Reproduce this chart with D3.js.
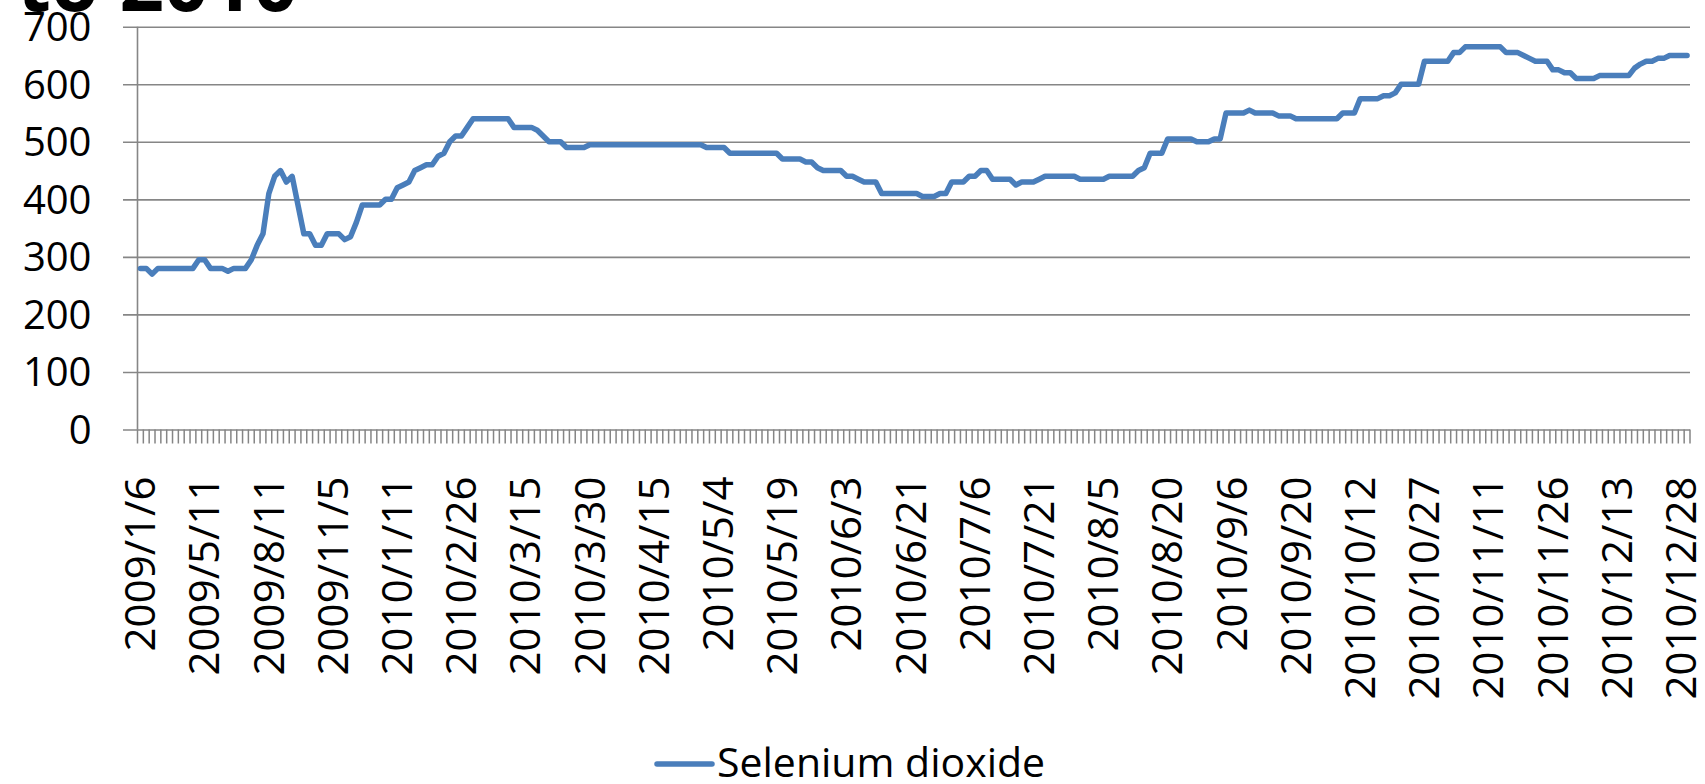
<!DOCTYPE html>
<html>
<head>
<meta charset="utf-8">
<script src="https://cdnjs.cloudflare.com/ajax/libs/d3/7.8.5/d3.min.js"></script>
<style>
  body { margin: 0; background: #fff; overflow: hidden; }
  text { font-family: "Open Sans", sans-serif; fill: #000; }
</style>
</head>
<body>
<div id="divchart"></div>
<script>
//Prices, one per category (trading day)
var prices = [
  280,280,270,280,280,280,280,280,280,280,
  295,295,280,280,280,275,280,280,280,295,
  320,340,410,440,450,430,440,390,340,340,
  320,320,340,340,340,330,335,360,390,390,
  390,390,400,400,420,425,430,450,455,460,
  460,475,480,500,510,510,525,540,540,540,
  540,540,540,540,525,525,525,525,520,510,
  500,500,500,490,490,490,490,495,495,495,
  495,495,495,495,495,495,495,495,495,495,
  495,495,495,495,495,495,495,490,490,490,
  490,480,480,480,480,480,480,480,480,480,
  470,470,470,470,465,465,455,450,450,450,
  450,440,440,435,430,430,430,410,410,410,
  410,410,410,410,405,405,405,410,410,430,
  430,430,440,440,450,450,435,435,435,435,
  425,430,430,430,435,440,440,440,440,440,
  440,435,435,435,435,435,440,440,440,440,
  440,450,455,480,480,480,505,505,505,505,
  505,500,500,500,505,505,550,550,550,550,
  555,550,550,550,550,545,545,545,540,540,
  540,540,540,540,540,540,550,550,550,575,
  575,575,575,580,580,585,600,600,600,600,
  640,640,640,640,640,655,655,665,665,665,
  665,665,665,665,655,655,655,650,645,640,
  640,640,625,625,620,620,610,610,610,610,
  615,615,615,615,615,615,628,635,640,640,
  645,645,650,650,650,650
]

//Only every 11th date is printed under the axis
var dateLabels = [
  "2009/1/6","2009/5/11","2009/8/11","2009/11/5","2010/1/11",
  "2010/2/26","2010/3/15","2010/3/30","2010/4/15","2010/5/4",
  "2010/5/19","2010/6/3","2010/6/21","2010/7/6","2010/7/21",
  "2010/8/5","2010/8/20","2010/9/6","2010/9/20","2010/10/12",
  "2010/10/27","2010/11/11","2010/11/26","2010/12/13","2010/12/28"
]
var labelStep = 11

var yTicks = [0,100,200,300,400,500,600,700]
var seriesName = "Selenium dioxide"
var titleTail = "to 2010"

//Sizes of the svg and of the plot area
var widthChart = 1705
var heightChart = 784
var margin = {top: 26.7, left: 137.5, right: 15, bottom: 354.5}
var plotW = widthChart - margin.left - margin.right
var plotH = heightChart - margin.top - margin.bottom

var gridColor = "#868686"
var lineColor = "#4a7ebb"

var svg = d3.select("#divchart")
  .append("svg")
  .attr("width", widthChart)
  .attr("height", heightChart)

//Title, mostly cut off above the picture
svg.append("text")
  .text(titleTail)
  .attr("x", 17)
  .attr("y", 11)
  .style("font-size", "78px")
  .style("font-weight", "bold")

var chart = svg.append("g")
  .attr("transform", "translate(" + margin.left + "," + margin.top + ")")

//Scales
var x = d3.scaleBand()
  .domain(d3.range(prices.length))
  .range([0, plotW])
  .padding(0)

var y = d3.scaleLinear()
  .domain([0, 700])
  .range([plotH, 0])

//Grid lines plus the small ticks on the left of the y axis
var yAxis = chart.append("g")
  .attr("class", "y axis")
  .call(d3.axisLeft(y)
    .tickValues(yTicks)
    .tickSize(-plotW)
    .tickSizeOuter(0)
    .tickPadding(46)
  )
yAxis.select(".domain").remove()
yAxis.selectAll("line")
  .attr("x1", -14.5)
  .attr("stroke", gridColor)
  .attr("stroke-width", 1.6)
yAxis.selectAll("text")
  .style("font-size", "40px")
  .attr("dy", "0.35em")

//Vertical axis line
chart.append("line")
  .attr("x1", 0).attr("x2", 0)
  .attr("y1", 0).attr("y2", plotH)
  .attr("stroke", gridColor)
  .attr("stroke-width", 1.6)

//Category tick marks sit between the categories
var edges = d3.range(prices.length + 1)
chart.append("g")
  .attr("class", "x ticks")
  .selectAll("line")
  .data(edges)
  .enter()
  .append("line")
  .attr("x1", function(d) { return d < prices.length ? x(d) : x(d - 1) + x.bandwidth() })
  .attr("x2", function(d) { return d < prices.length ? x(d) : x(d - 1) + x.bandwidth() })
  .attr("y1", plotH)
  .attr("y2", plotH + 14)
  .attr("stroke", "#858585")
  .attr("stroke-width", 1.5)

//Date labels, turned upright
chart.append("g")
  .attr("class", "x labels")
  .selectAll("text")
  .data(dateLabels)
  .enter()
  .append("text")
  .text(function(d) { return d })
  .attr("transform", function(d, i) {
    var cx = x(i * labelStep) + x.bandwidth() / 2
    return "translate(" + cx + "," + (plotH + 47) + ") rotate(-90)"
  })
  .attr("text-anchor", "end")
  .attr("dy", "0.35em")
  .style("font-size", "42px")

//The price line
var line = d3.line()
  .x(function(d, i) { return x(i) + x.bandwidth() / 2 })
  .y(function(d) { return y(d) })

chart.append("path")
  .datum(prices)
  .attr("d", line)
  .attr("fill", "none")
  .attr("stroke", lineColor)
  .attr("stroke-width", 5.5)
  .attr("stroke-linejoin", "round")
  .attr("stroke-linecap", "round")

//Legend at the bottom
var legend = svg.append("g").attr("class", "legend")
legend.append("line")
  .attr("x1", 657).attr("x2", 712)
  .attr("y1", 764).attr("y2", 764)
  .attr("stroke", lineColor)
  .attr("stroke-width", 5.5)
  .attr("stroke-linecap", "round")
legend.append("text")
  .text(seriesName)
  .attr("x", 717)
  .attr("y", 777)
  .style("font-size", "41px")
</script>
</body>
</html>
